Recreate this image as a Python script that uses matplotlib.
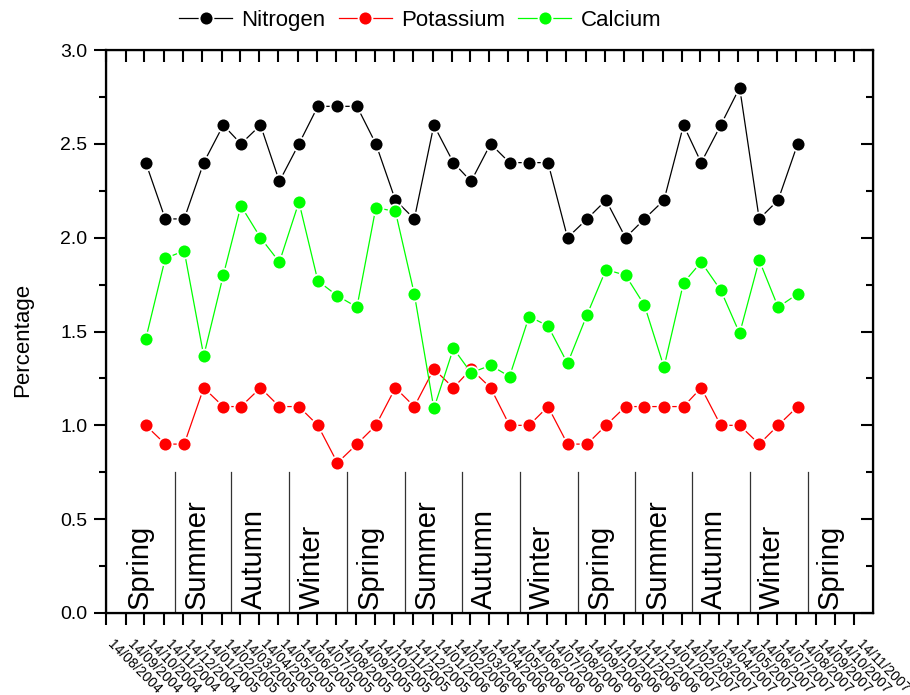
import numpy as np
import pandas as pd
import matplotlib.pyplot as plt
import matplotlib.dates as mdates
import matplotlib.transforms as mtransforms

plt.rcParams['font.family'] = ['Liberation Sans', 'DejaVu Sans']

# monthly samples, Oct 2004 .. Aug 2007
sample_dates = pd.date_range('2004-10-16', periods=35, freq=pd.DateOffset(months=1))

nitrogen = [2.4, 2.1, 2.1, 2.4, 2.6, 2.5, 2.6, 2.3, 2.5, 2.7, 2.7, 2.7, 2.5, 2.2, 2.1,
            2.6, 2.4, 2.3, 2.5, 2.4, 2.4, 2.4, 2.0, 2.1, 2.2, 2.0, 2.1, 2.2, 2.6, 2.4,
            2.6, 2.8, 2.1, 2.2, 2.5]
potassium = [1.0, 0.9, 0.9, 1.2, 1.1, 1.1, 1.2, 1.1, 1.1, 1.0, 0.8, 0.9, 1.0, 1.2, 1.1,
             1.3, 1.2, 1.3, 1.2, 1.0, 1.0, 1.1, 0.9, 0.9, 1.0, 1.1, 1.1, 1.1, 1.1, 1.2,
             1.0, 1.0, 0.9, 1.0, 1.1]
calcium = [1.46, 1.89, 1.93, 1.37, 1.80, 2.17, 2.00, 1.87, 2.19, 1.77, 1.69, 1.63, 2.16,
           2.14, 1.70, 1.09, 1.41, 1.28, 1.32, 1.26, 1.58, 1.53, 1.33, 1.59, 1.83, 1.80,
           1.64, 1.31, 1.76, 1.87, 1.72, 1.49, 1.88, 1.63, 1.70]

tick_dates = pd.date_range('2004-08-14', '2007-11-14', freq=pd.DateOffset(months=1))

# season boundaries and names (southern hemisphere)
season_edges = pd.date_range('2004-12-01', '2007-09-01', freq=pd.DateOffset(months=3))
season_names = ['Spring', 'Summer', 'Autumn', 'Winter'] * 3 + ['Spring']
season_starts = pd.date_range('2004-09-14', periods=13, freq=pd.DateOffset(months=3))

fig = plt.figure(figsize=(9.1, 6.95), dpi=100)
ax = fig.add_axes([0.1165, 0.118, 0.8425, 0.810])

series = [(nitrogen, 'black', 'Nitrogen'),
          (potassium, '#ff0000', 'Potassium'),
          (calcium, '#00ff00', 'Calcium')]
for vals, col, lab in series:
    ax.plot(sample_dates, vals, '-o', color=col, lw=0.9, ms=10, mfc=col,
            mec='white', mew=1.3, label=lab)

# season boxes along the bottom
for d in season_edges:
    ax.plot([d, d], [0, 0.75], color='#333333', lw=0.9)
for d, name in zip(season_starts, season_names):
    ax.text(d, 0.02, name, rotation=90, ha='left', va='bottom', fontsize=21)

x0 = pd.Timestamp('2004-08-14')
x1 = pd.Timestamp('2007-12-13')
ax.set_xlim(x0, x1)
ax.set_ylim(0, 3.0)

ax.set_xticks(tick_dates)
ax.set_xticklabels([])
# slanted date labels under each tick
trans = mtransforms.blended_transform_factory(ax.transData, ax.transAxes)
trans = trans + mtransforms.ScaledTranslation(4 / 100, -29 / 100, fig.dpi_scale_trans)
for d in tick_dates:
    ax.text(d, 0, d.strftime('%d/%m/%Y'), transform=trans, rotation=-45,
            rotation_mode='anchor', ha='left', va='center', fontsize=10)

ax.set_yticks(np.arange(0, 3.01, 0.5))
ax.set_yticks(np.arange(0, 3.01, 0.25), minor=True)
ax.yaxis.set_major_formatter(plt.FormatStrFormatter('%.1f'))
ax.tick_params(axis='x', direction='out', length=8.5, width=1.5)
ax.tick_params(axis='y', which='major', direction='out', length=8.5, width=1.5, labelsize=14, pad=5)
ax.tick_params(axis='y', which='minor', direction='out', length=5, width=1.5)
for s in ax.spines.values():
    s.set_linewidth(1.6)

# inward ticks on top and right
top = ax.twiny()
top.set_xlim(mdates.date2num(x0), mdates.date2num(x1))
top.set_xticks(mdates.date2num(tick_dates))
top.tick_params(axis='x', direction='in', length=8.5, width=1.5, labeltop=False)
right = ax.twinx()
right.set_ylim(0, 3.0)
right.set_yticks(np.arange(0, 3.01, 0.5))
right.set_yticks(np.arange(0, 3.01, 0.25), minor=True)
right.tick_params(axis='y', which='major', direction='in', length=8.5, width=1.5, labelright=False)
right.tick_params(axis='y', which='minor', direction='in', length=5, width=1.5)

ax.set_ylabel('Percentage', fontsize=16)
ax.yaxis.set_label_coords(-0.095, 0.485)

fig.legend(*ax.get_legend_handles_labels(), loc='center', bbox_to_anchor=(0.4615, 0.971),
           ncol=3, frameon=False, fontsize=16, handlelength=2.4, handletextpad=0.4,
           columnspacing=0.6, numpoints=1)

fig.savefig('out.png', dpi=100)
